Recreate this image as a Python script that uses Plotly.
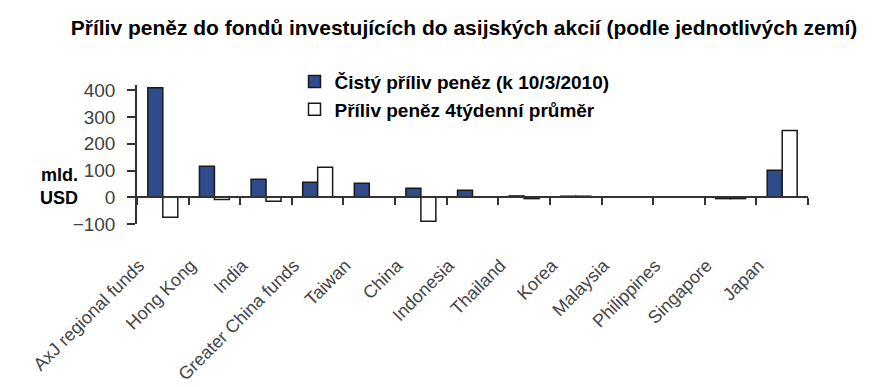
import plotly.graph_objects as go

categories = ["AxJ regional funds", "Hong Kong", "India", "Greater China funds", "Taiwan",
              "China", "Indonesia", "Thailand", "Korea", "Malaysia", "Philippines",
              "Singapore", "Japan"]
net_flow = [410, 116, 67, 56, 52, 34, 26, 5, 4, 0, 0, -5, 101]
avg_4week = [-75, -8, -15, 112, 0, -90, 0, -5, 4, 0, 0, -5, 250]
y_ticks = [-100, 0, 100, 200, 300, 400]

title_text = "Příliv peněz do fondů investujících do asijských akcií (podle jednotlivých zemí)"
name_net = "Čistý příliv peněz (k 10/3/2010)"
name_avg = "Příliv peněz 4týdenní průměr"
unit_text = "mld.<br>USD"

# page has an 8px body margin: figure occupies 8..877 x 8..387 of the window
OFF = 8
W, H = 877 - OFF, 387 - OFF
L_REF, R, T_REF, B = 137, 69, 85, 163
L, T = L_REF - OFF, T_REF - OFF
PW = 877 - L_REF - R
ymin, ymax = -100, 420
zero_pos = (0 - ymin) / (ymax - ymin)

fig = go.Figure()
fig.add_trace(go.Bar(x=categories, y=net_flow, name=name_net,
                     marker=dict(color="#2F4B8C", line=dict(color="#1a1a1a", width=1.5))))
fig.add_trace(go.Bar(x=categories, y=avg_4week, name=name_avg,
                     marker=dict(color="#ffffff", line=dict(color="#1a1a1a", width=1.5))))
# carrier trace for the label axis
fig.add_trace(go.Scatter(x=[None], y=[None], xaxis="x2", showlegend=False, hoverinfo="skip"))

fam = "Liberation Sans, Arial, sans-serif"
ytick_font = dict(family=fam, size=19, color="#424242")
xtick_font = dict(family=fam, size=18, color="#454545")

fig.update_layout(
    width=W, height=H,
    margin=dict(l=L, r=R, t=T, b=B, autoexpand=False),
    paper_bgcolor="white", plot_bgcolor="white",
    barmode="group", bargap=0.42, bargroupgap=0,
    showlegend=True,
    legend=dict(x=(294.5 - L_REF) / PW, y=1.16, xanchor="left", yanchor="top",
                bgcolor="rgba(0,0,0,0)",
                font=dict(family=fam, size=19, color="black", weight="bold"),
                tracegroupgap=0),
    title=dict(text=title_text, x=(464 - OFF) / W, xref="container", xanchor="center",
               y=1 - (28 - OFF) / H, yref="container", yanchor="middle",
               font=dict(family=fam, size=21, color="black", weight="bold")),
    xaxis=dict(type="category", range=[-0.5, len(categories) - 0.5],
               anchor="free", position=zero_pos,
               showline=True, linecolor="#333333", linewidth=1.5,
               ticks="outside", tickson="boundaries", ticklen=7, tickwidth=1.5,
               tickcolor="#333333", showticklabels=False, showgrid=False, zeroline=False),
    xaxis2=dict(overlaying="x", anchor="free", position=0,
                range=[-0.04, len(categories) - 0.04],
                tickmode="array", tickvals=list(range(len(categories))), ticktext=categories,
                tickangle=-45, ticks="outside", ticklen=23, tickcolor="rgba(0,0,0,0)",
                showline=False, showgrid=False, zeroline=False, tickfont=xtick_font),
    yaxis=dict(range=[ymin, ymax], tickmode="array", tickvals=y_ticks,
               showline=True, linecolor="#333333", linewidth=1.5,
               ticks="outside", ticklen=8, tickwidth=1.5, tickcolor="#333333",
               ticklabelstandoff=8,
               showgrid=False, zeroline=False, tickfont=ytick_font),
    annotations=[dict(text=unit_text, xref="paper", yref="y",
                      x=(80 - L_REF) / PW, y=41, xanchor="right", yanchor="middle",
                      align="right", showarrow=False,
                      font=dict(family=fam, size=18, color="black", weight="bold"))],
)

fig.write_html("out.html")
